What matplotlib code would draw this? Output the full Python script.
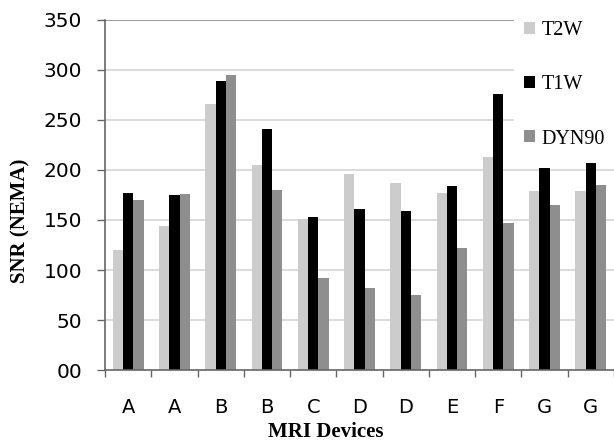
# SNR (NEMA) per MRI device, three sequences
import numpy as np
import matplotlib.pyplot as plt

devices = ["A", "A", "B", "B", "C", "D", "D", "E", "F", "G", "G"]
t2w = [120, 144, 266, 205, 151, 196, 187, 177, 213, 179, 179]
t1w = [177, 175, 289, 241, 153, 161, 159, 184, 276, 202, 207]
dyn90 = [170, 176, 295, 180, 92, 82, 75, 122, 147, 165, 185]
yticks = [0, 50, 100, 150, 200, 250, 300, 350]
ylabels = ["00", "50", "100", "150", "200", "250", "300", "350"]

fig = plt.figure(figsize=(6.14, 4.46), dpi=100)
ax = fig.add_axes([105/614, 76/446, 509/614, 350/446])

x = np.arange(len(devices)) + 0.5
w = 0.222
ax.bar(x - w, t2w, w, color="#cccccc", label="T2W", zorder=3)
ax.bar(x, t1w, w, color="black", label="T1W", zorder=3)
ax.bar(x + w, dyn90, w, color="#8e8e8e", label="DYN90", zorder=3)

ax.set_xlim(0, len(devices))
ax.set_ylim(0, 350)

# grid lines
for v in yticks[1:]:
    ax.axhline(v, color="#888888" if v == 350 else "#d4d4d4", lw=1.2, zorder=1)

ax.set_yticks(yticks)
ax.set_yticklabels(ylabels, fontsize=14.5)
ax.tick_params(axis="y", length=6, width=1, color="#666666", pad=10.5)

# x ticks at group boundaries, labels at centers
ax.set_xticks(np.arange(len(devices) + 1))
ax.set_xticklabels([])
ax.tick_params(axis="x", which="major", length=5, width=1, color="#666666")
ax.set_xticks(x, minor=True)
ax.set_xticklabels(devices, minor=True, fontsize=14)
ax.tick_params(axis="x", which="minor", length=0, pad=20)

for s in ["top", "right"]:
    ax.spines[s].set_visible(False)
for s in ["left", "bottom"]:
    ax.spines[s].set_color("#666666")
    ax.spines[s].set_linewidth(1.2)
    ax.spines[s].set_zorder(4)

fig.text(326/614, 1 - 432/446, "MRI Devices", ha="center", va="center",
         family="Liberation Serif", fontweight="bold", fontsize=15)
fig.text(20/614, 1 - 221/446, "SNR (NEMA)", ha="center", va="center", rotation=90,
         family="Liberation Serif", fontweight="bold", fontsize=15)

leg = ax.legend(loc="upper left", bbox_to_anchor=(514/614, 1 - 11/446),
                bbox_transform=fig.transFigure, frameon=True, fancybox=False,
                facecolor="white", edgecolor="none", framealpha=1,
                prop={"family": "Liberation Serif", "size": 14.5},
                handlelength=0.55, handleheight=0.55, handletextpad=0.3,
                labelspacing=1.75, borderpad=0.5, borderaxespad=0)
leg.set_zorder(5)

fig.savefig("out.png", dpi=100)
